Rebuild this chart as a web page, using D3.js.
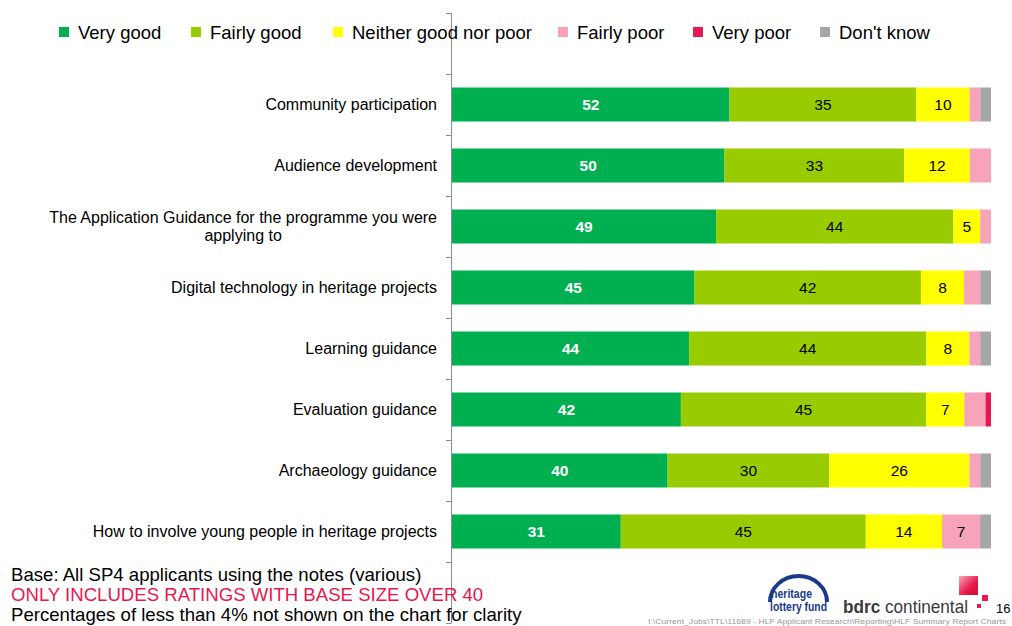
<!DOCTYPE html>
<html>
<head>
<meta charset="utf-8">
<script src="https://cdn.jsdelivr.net/npm/d3@7"></script>
<style>
  html, body { margin: 0; padding: 0; background: #fff; }
  svg { display: block; font-family: "Liberation Sans", Arial, sans-serif; }
</style>
</head>
<body>
<svg id="chart" width="1012" height="626"></svg>
<script>
// Ratings of the guidance notes, percent of respondents
const categories = [
  "Community participation",
  "Audience development",
  "The Application Guidance for the programme you were|applying to",
  "Digital technology in heritage projects",
  "Learning guidance",
  "Evaluation guidance",
  "Archaeology guidance",
  "How to involve young people in heritage projects"
];
const seriesNames = ["Very good", "Fairly good", "Neither good nor poor", "Fairly poor", "Very poor", "Don't know"];
const seriesColors = ["#00B050", "#99CC00", "#FFFF00", "#F7A3BA", "#E8174F", "#A6A6A6"];

const veryGood    = [52, 50, 49, 45, 44, 42, 40, 31];
const fairlyGood  = [35, 33, 44, 42, 44, 45, 30, 45];
const neither     = [10, 12, 5, 8, 8, 7, 26, 14];
const fairlyPoor  = [2, 3.9, 2, 3, 2, 3.9, 2, 7];
const veryPoor    = [0, 0, 0, 0, 0, 1, 0, 0];
const dontKnow    = [2, 0, 0, 2, 2, 0, 2, 2];

const footNotes = [
  "Base: All SP4 applicants using the notes (various)",
  "ONLY INCLUDES RATINGS WITH BASE SIZE OVER 40",
  "Percentages of less than 4% not shown on the chart for clarity"
];

const seriesValues = [veryGood, fairlyGood, neither, fairlyPoor, veryPoor, dontKnow];
const rows = categories.map((c, i) => {
  const r = { category: c };
  seriesNames.forEach((s, k) => r[s] = seriesValues[k][i]);
  return r;
});

const svg = d3.select("#chart");

// Band scale with an empty slot above and below the eight bars
const slots = ["_top", ...categories, "_bottom"];
const y = d3.scaleBand().domain(slots).range([13, 623]).paddingInner(0).paddingOuter(0);
const x = d3.scaleLinear().domain([0, 1]).range([452, 991]);
const barH = 34;

const stack = d3.stack().keys(seriesNames).offset(d3.stackOffsetExpand);
const stacked = stack(rows);

// Bars
const layers = svg.append("g").selectAll("g").data(stacked).join("g")
  .attr("fill", (d, i) => seriesColors[i]);
layers.selectAll("rect").data(d => d).join("rect")
  .attr("x", d => x(d[0]))
  .attr("width", d => Math.max(0, x(d[1]) - x(d[0])))
  .attr("y", d => y(d.data.category) + (y.bandwidth() - barH) / 2)
  .attr("height", barH);

// Segment value labels (values under 4 are left unlabelled)
stacked.forEach((layer, li) => {
  svg.append("g").selectAll("text").data(layer.filter(d => d.data[layer.key] >= 4)).join("text")
    .attr("x", d => (x(d[0]) + x(d[1])) / 2)
    .attr("y", d => y(d.data.category) + y.bandwidth() / 2)
    .attr("dy", "0.36em")
    .attr("text-anchor", "middle")
    .attr("font-size", 15.5)
    .attr("font-weight", li === 0 ? "bold" : "normal")
    .attr("fill", li === 0 ? "#fff" : "#000")
    .text(d => d.data[layer.key]);
});

// Vertical category axis with ticks on the band boundaries
const axisG = svg.append("g");
axisG.append("line")
  .attr("x1", 451.5).attr("x2", 451.5)
  .attr("y1", 13).attr("y2", 623)
  .attr("stroke", "#8c8c8c").attr("stroke-width", 1);
const bounds = slots.map(s => y(s)).concat([y.range()[1]]);
axisG.selectAll(".tick").data(bounds).join("line")
  .attr("x1", 446).attr("x2", 451.5)
  .attr("y1", d => Math.round(d) + 0.5).attr("y2", d => Math.round(d) + 0.5)
  .attr("stroke", "#8c8c8c").attr("stroke-width", 1);

// Category labels
const catSize = 16;
categories.forEach(c => {
  const cy = y(c) + y.bandwidth() / 2;
  const lines = c.split("|");
  if (lines.length === 1) {
    svg.append("text").attr("x", 437).attr("y", cy).attr("dy", "0.36em")
      .attr("text-anchor", "end").attr("font-size", catSize).attr("fill", "#000").text(c);
  } else {
    const t1 = svg.append("text").attr("x", 437).attr("y", cy - 9).attr("dy", "0.36em")
      .attr("text-anchor", "end").attr("font-size", catSize).attr("fill", "#000").text(lines[0]);
    const w = t1.node().getComputedTextLength();
    svg.append("text").attr("x", 437 - w / 2).attr("y", cy + 9).attr("dy", "0.36em")
      .attr("text-anchor", "middle").attr("font-size", catSize).attr("fill", "#000").text(lines[1]);
  }
});

// Legend
const legendX = [59, 191, 333, 558, 693, 820];
const legend = svg.append("g").selectAll("g").data(seriesNames).join("g")
  .attr("transform", (d, i) => `translate(${legendX[i]},32)`);
legend.append("rect").attr("x", 0).attr("y", -5).attr("width", 10).attr("height", 10)
  .attr("fill", (d, i) => seriesColors[i]);
legend.append("text").attr("x", 19).attr("y", 0).attr("dy", "0.36em")
  .attr("font-size", 18.5).attr("fill", "#000").text(d => d);

// Footnotes
svg.append("g").selectAll("text").data(footNotes).join("text")
  .attr("x", 11).attr("y", (d, i) => 581 + i * 20)
  .attr("font-size", 18.6)
  .attr("fill", (d, i) => i === 1 ? "#E8174F" : "#000")
  .text(d => d);

// Heritage Lottery Fund logo
const hlf = svg.append("g");
hlf.append("path")
  .attr("d", "M770,602 A28.5,26 0 0 1 827,602")
  .attr("fill", "none").attr("stroke", "#1B3A8C").attr("stroke-width", 4);
hlf.append("text").attr("x", 771).attr("y", 598).attr("font-size", 12).attr("font-weight", "bold")
  .attr("fill", "#1B3A8C").attr("textLength", 41).attr("lengthAdjust", "spacingAndGlyphs").text("heritage");
hlf.append("text").attr("x", 770).attr("y", 611).attr("font-size", 12).attr("font-weight", "bold")
  .attr("fill", "#1B3A8C").attr("textLength", 57).attr("lengthAdjust", "spacingAndGlyphs").text("lottery fund");

// bdrc continental logo
const grad = svg.append("defs").append("linearGradient").attr("id", "bdrcRed")
  .attr("x1", "0").attr("y1", "0").attr("x2", "1").attr("y2", "1");
grad.append("stop").attr("offset", "0").attr("stop-color", "#F9A8B8");
grad.append("stop").attr("offset", "0.6").attr("stop-color", "#E8174F");
grad.append("stop").attr("offset", "1").attr("stop-color", "#C8102E");
svg.append("rect").attr("x", 959).attr("y", 576).attr("width", 19).attr("height", 19).attr("fill", "url(#bdrcRed)");
svg.append("rect").attr("x", 982).attr("y", 595).attr("width", 6).attr("height", 6).attr("fill", "#E8174F");
svg.append("rect").attr("x", 977).attr("y", 604).attr("width", 4).attr("height", 4).attr("fill", "#E8174F");
svg.append("text").attr("x", 843).attr("y", 613).attr("font-size", 19).attr("fill", "#3a3a3a")
  .attr("textLength", 125).attr("lengthAdjust", "spacingAndGlyphs")
  .html('<tspan font-weight="bold">bdrc</tspan> continental');

// Page number and file path
svg.append("text").attr("x", 996).attr("y", 613).attr("font-size", 13).attr("fill", "#000").text("16");
svg.append("text").attr("x", 648).attr("y", 624).attr("font-size", 7).attr("fill", "#999")
  .attr("textLength", 358).attr("lengthAdjust", "spacingAndGlyphs")
  .text("I:\\Current_Jobs\\TTL\\11689 - HLF Applicant Research\\Reporting\\HLF Summary Report Charts");
</script>
</body>
</html>
